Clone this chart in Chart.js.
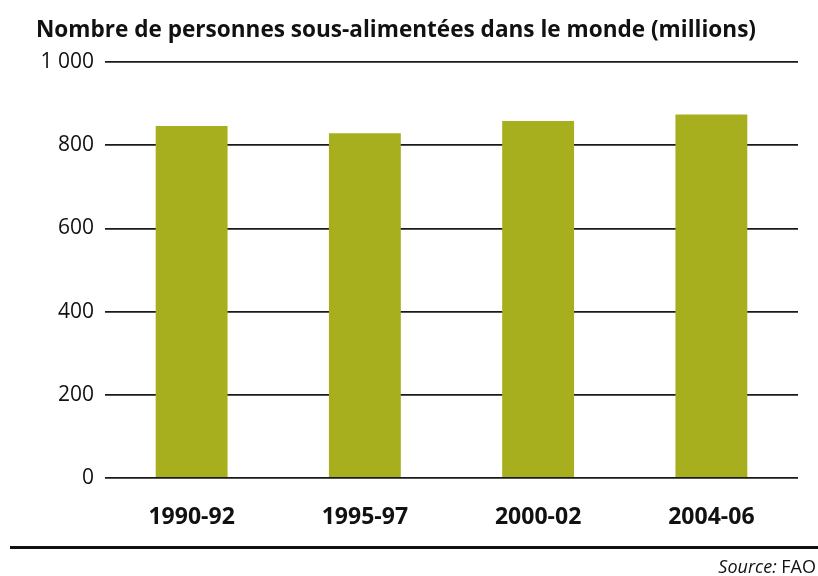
<!DOCTYPE html>
<html lang="fr">
<head>
<meta charset="UTF-8">
<title>Personnes sous-alimentées</title>
<script src="https://cdn.jsdelivr.net/npm/chart.js@4.4.1/dist/chart.umd.min.js"></script>
<style>
    body { margin: 0; background: #fff; }
    .wrap { position: relative; width: 818px; height: 576px; }
</style>
</head>
<body>
<div class="wrap">
    <canvas id="chart" width="818" height="576"></canvas>
</div>
<script>
// donnees (millions)
const periods = ['1990-92', '1995-97', '2000-02', '2004-06'];
const undernourished = [846, 829, 858, 874];
const yTicks = [0, 200, 400, 600, 800, 1000];

const titleText = 'Nombre de personnes sous-alimentées dans le monde (millions)';
const fontFamily = '"Open Sans", "DejaVu Sans", sans-serif';

// titre, filet du bas et source
const decor = {
    id: 'decor',
    afterDraw(chart) {
        const ctx = chart.ctx;
        ctx.save();
        ctx.fillStyle = '#111';
        ctx.textBaseline = 'alphabetic';
        ctx.textAlign = 'left';
        ctx.font = 'bold 22.6px ' + fontFamily;
        ctx.fillText(titleText, 36, 37, 720);

        ctx.fillRect(10, 546, 808, 3);

        ctx.textAlign = 'right';
        ctx.font = '18px ' + fontFamily;
        const fao = ' FAO';
        const w = ctx.measureText(fao).width;
        ctx.fillText(fao, 816, 573);
        ctx.font = 'italic 18px ' + fontFamily;
        ctx.fillText('Source:', 816 - w, 573);
        ctx.restore();
    }
};

new Chart(document.getElementById('chart'), {
    type: 'bar',
    data: {
        labels: periods,
        datasets: [{
            data: undernourished,
            backgroundColor: '#a8af1f',
            categoryPercentage: 1,
            barPercentage: 0.415
        }]
    },
    options: {
        responsive: false,
        animation: false,
        layout: { padding: { top: 62, right: 20, bottom: 40, left: 0 } },
        plugins: {
            legend: { display: false },
            tooltip: { enabled: false }
        },
        scales: {
            x: {
                afterFit(axis) { axis.height = 58; },
                grid: { display: false },
                border: { display: false },
                ticks: {
                    color: '#111',
                    padding: 18,
                    font: { family: fontFamily, size: 23, weight: 'bold' }
                }
            },
            y: {
                min: 0,
                max: 1000,
                afterBuildTicks(axis) {
                    axis.ticks = yTicks.map(v => ({ value: v }));
                },
                afterFit(axis) { axis.width = 105; },
                grid: { color: '#1a1a1a', lineWidth: 1.8, drawTicks: false },
                border: { display: false },
                ticks: {
                    color: '#111',
                    padding: 11,
                    font: { family: fontFamily, size: 21 },
                    callback: v => v >= 1000 ? '1 000' : String(v)
                }
            }
        }
    },
    plugins: [decor]
});
</script>
</body>
</html>
